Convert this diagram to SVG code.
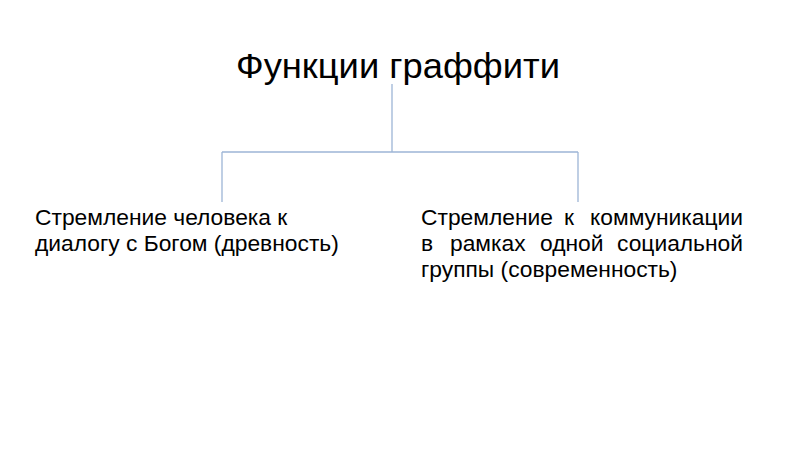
<svg xmlns="http://www.w3.org/2000/svg" width="800" height="450" viewBox="0 0 800 450">
<style>
.t{font-family:"Liberation Sans",Arial,sans-serif;fill:#000}
.title{font-size:35px}
.b{font-size:22.8px}
.c{fill:none;stroke:#9db5d6;stroke-width:1.3}
</style>
<rect width="800" height="450" fill="#fff"/>
<g id="connectors">
<path class="c" d="M392 84V152M222 152H578M222 152V202M578 152V202"/>
</g>
<g id="title"><text class="t title" x="236" y="78" textLength="324" lengthAdjust="spacingAndGlyphs">Функции граффити</text></g>
<g id="left">
<text class="t b" x="35" y="225">Стремление человека к</text>
<text class="t b" x="35" y="251">диалогу с Богом (древность)</text>
</g>
<g id="right">
<text class="t b" y="225"><tspan x="421">Стремление</tspan><tspan x="569" text-anchor="middle">к</tspan><tspan x="743" text-anchor="end">коммуникации</tspan></text>
<text class="t b" y="251"><tspan x="421">в</tspan><tspan x="450">рамках</tspan><tspan x="540">одной</tspan><tspan x="743" text-anchor="end">социальной</tspan></text>
<text class="t b" x="421" y="277">группы (современность)</text>
</g>
</svg>
